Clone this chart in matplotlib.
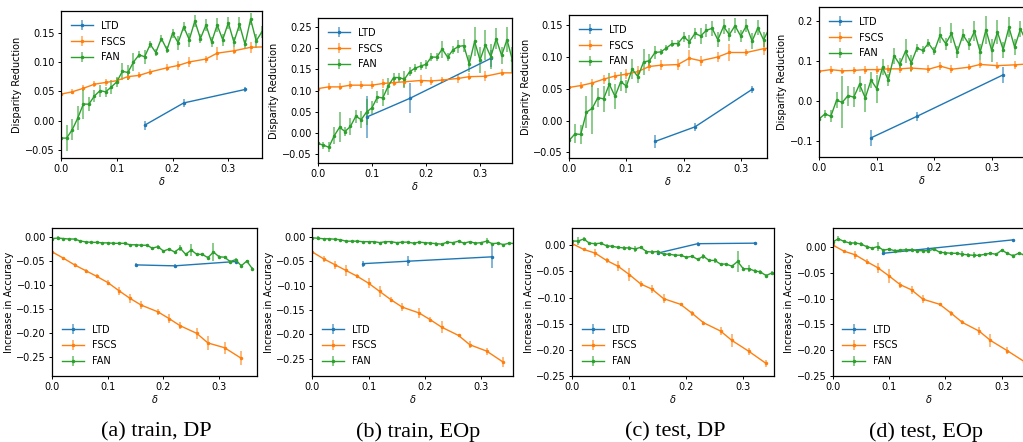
import matplotlib
matplotlib.use('Agg')
import matplotlib.pyplot as plt

W, H = 1023, 442
C_LTD, C_FSCS, C_FAN = '#1f77b4', '#ff7f0e', '#2ca02c'

# ---- shared x grids ----
delta_fan = [0.00, 0.01, 0.02, 0.03, 0.04, 0.05, 0.06, 0.07, 0.08, 0.09,
             0.10, 0.11, 0.12, 0.13, 0.14, 0.15, 0.16, 0.17, 0.18, 0.19,
             0.20, 0.21, 0.22, 0.23, 0.24, 0.25, 0.26, 0.27, 0.28, 0.29,
             0.30, 0.31, 0.32, 0.33, 0.34, 0.35, 0.36]
delta_fscs_top = [0.00, 0.02, 0.04, 0.06, 0.08, 0.10, 0.12, 0.14, 0.16,
                  0.19, 0.21, 0.23, 0.26, 0.28, 0.31, 0.34, 0.37]
delta_fscs_bot = [0.00, 0.02, 0.04, 0.06, 0.08, 0.10, 0.12, 0.14, 0.16,
                  0.19, 0.21, 0.23, 0.26, 0.28, 0.31, 0.34]

# ---- (a) train, DP ----
ltd_x_a = [0.15, 0.22, 0.33]
ltd_dr_a = [-0.008, 0.030, 0.053]
ltd_dr_err_a = [0.008, 0.007, 0.004]
fscs_dr_a = [0.045, 0.049, 0.055, 0.062, 0.065, 0.068, 0.075, 0.077, 0.083,
             0.090, 0.094, 0.100, 0.105, 0.115, 0.119, 0.125, 0.126]
fscs_dr_err_a = [0.002, 0.004, 0.005, 0.005, 0.006, 0.005, 0.005, 0.005, 0.005,
                 0.006, 0.008, 0.009, 0.006, 0.011, 0.006, 0.009, 0.005]
fan_dr_a = [-0.030, -0.030, -0.016, 0.004, 0.028, 0.028, 0.042, 0.051, 0.049, 0.057,
            0.066, 0.084, 0.082, 0.100, 0.112, 0.109, 0.130, 0.116, 0.140, 0.121,
            0.149, 0.133, 0.160, 0.138, 0.170, 0.140, 0.163, 0.134, 0.163, 0.138,
            0.167, 0.134, 0.164, 0.130, 0.173, 0.136, 0.151]
fan_dr_err_a = [0.003, 0.022, 0.018, 0.020, 0.025, 0.012, 0.010, 0.010, 0.008, 0.012,
                0.008, 0.015, 0.012, 0.015, 0.006, 0.012, 0.006, 0.006, 0.006, 0.006,
                0.008, 0.012, 0.008, 0.012, 0.010, 0.008, 0.010, 0.008, 0.012, 0.010,
                0.010, 0.008, 0.012, 0.008, 0.010, 0.012, 0.010]
ltd_acc_a = [-0.058, -0.060, -0.051]
ltd_acc_err_a = [0.003, 0.003, 0.003]
fscs_acc_a = [-0.031, -0.044, -0.058, -0.070, -0.082, -0.095, -0.112, -0.128,
              -0.142, -0.156, -0.170, -0.185, -0.201, -0.221, -0.231, -0.253]
fscs_acc_err_a = [0.002, 0.003, 0.004, 0.004, 0.004, 0.005, 0.008, 0.010,
                  0.008, 0.006, 0.010, 0.007, 0.012, 0.015, 0.013, 0.015]
fan_acc_a = [-0.003, -0.002, -0.003, -0.004, -0.004, -0.008, -0.010, -0.011, -0.011, -0.012,
             -0.012, -0.013, -0.013, -0.013, -0.016, -0.016, -0.017, -0.017, -0.023, -0.020,
             -0.029, -0.025, -0.031, -0.023, -0.036, -0.027, -0.036, -0.036, -0.043, -0.031,
             -0.041, -0.042, -0.051, -0.047, -0.060, -0.050, -0.066]
fan_acc_err_a = [0.002, 0.005, 0.002, 0.002, 0.002, 0.002, 0.002, 0.002, 0.002, 0.002,
                 0.002, 0.002, 0.002, 0.002, 0.002, 0.002, 0.002, 0.002, 0.003, 0.003,
                 0.003, 0.003, 0.003, 0.007, 0.003, 0.012, 0.003, 0.003, 0.003, 0.018,
                 0.003, 0.003, 0.004, 0.003, 0.003, 0.003, 0.003]

# ---- (b) train, EOp ----
ltd_x_b = [0.09, 0.17, 0.32]
ltd_dr_b = [0.038, 0.082, 0.176]
ltd_dr_err_b = [0.050, 0.035, 0.020]
fscs_dr_b = [0.105, 0.109, 0.109, 0.113, 0.113, 0.113, 0.117, 0.119, 0.121,
             0.124, 0.123, 0.125, 0.129, 0.133, 0.134, 0.142, 0.142]
fscs_dr_err_b = [0.004, 0.008, 0.008, 0.010, 0.010, 0.010, 0.010, 0.008, 0.012,
                 0.012, 0.010, 0.008, 0.010, 0.008, 0.012, 0.008, 0.006]
fan_dr_b = [-0.024, -0.028, -0.033, -0.006, 0.014, 0.004, 0.016, 0.040, 0.032, 0.050,
            0.060, 0.085, 0.083, 0.111, 0.131, 0.131, 0.127, 0.145, 0.153, 0.158,
            0.162, 0.179, 0.179, 0.198, 0.179, 0.196, 0.204, 0.206, 0.163, 0.216,
            0.172, 0.208, 0.180, 0.222, 0.183, 0.220, 0.172]
fan_dr_err_b = [0.005, 0.008, 0.012, 0.020, 0.035, 0.010, 0.020, 0.015, 0.020, 0.030,
                0.015, 0.015, 0.020, 0.020, 0.010, 0.010, 0.020, 0.010, 0.010, 0.010,
                0.010, 0.010, 0.010, 0.020, 0.010, 0.010, 0.015, 0.015, 0.020, 0.035,
                0.030, 0.035, 0.030, 0.025, 0.020, 0.030, 0.030]
ltd_acc_b = [-0.055, -0.050, -0.041]
ltd_acc_err_b = [0.006, 0.010, 0.022]
fscs_acc_b = [-0.031, -0.045, -0.057, -0.069, -0.081, -0.095, -0.112, -0.129,
              -0.144, -0.156, -0.170, -0.185, -0.202, -0.221, -0.234, -0.257]
fscs_acc_err_b = [0.010, 0.006, 0.008, 0.012, 0.004, 0.010, 0.012, 0.005,
                  0.008, 0.010, 0.005, 0.012, 0.004, 0.007, 0.007, 0.010]
fan_acc_b = [-0.002, -0.003, -0.004, -0.004, -0.005, -0.006, -0.009, -0.009, -0.009, -0.010,
             -0.010, -0.010, -0.012, -0.010, -0.010, -0.012, -0.011, -0.011, -0.013, -0.011,
             -0.012, -0.013, -0.014, -0.015, -0.011, -0.012, -0.009, -0.013, -0.010, -0.013,
             -0.012, -0.009, -0.014, -0.013, -0.016, -0.013, -0.014]
fan_acc_err_b = [0.002, 0.004, 0.002, 0.002, 0.002, 0.002, 0.002, 0.002, 0.002, 0.002,
                 0.002, 0.002, 0.002, 0.002, 0.002, 0.002, 0.002, 0.002, 0.002, 0.002,
                 0.002, 0.002, 0.003, 0.003, 0.002, 0.002, 0.002, 0.002, 0.002, 0.002,
                 0.002, 0.006, 0.002, 0.002, 0.002, 0.002, 0.002]

# ---- (c) test, DP ----
ltd_x_c = [0.15, 0.22, 0.32]
ltd_dr_c = [-0.033, -0.010, 0.049]
ltd_dr_err_c = [0.010, 0.006, 0.006]
fscs_dr_c = [0.052, 0.055, 0.059, 0.065, 0.070, 0.073, 0.077, 0.085, 0.087,
             0.088, 0.098, 0.094, 0.100, 0.107, 0.107, 0.113, 0.116]
fscs_dr_err_c = [0.003, 0.005, 0.006, 0.007, 0.007, 0.008, 0.008, 0.007, 0.008,
                 0.008, 0.013, 0.008, 0.008, 0.013, 0.006, 0.010, 0.006]
fan_dr_c = [-0.031, -0.021, -0.022, 0.013, 0.019, 0.036, 0.034, 0.057, 0.038, 0.061,
            0.054, 0.081, 0.069, 0.092, 0.094, 0.107, 0.108, 0.114, 0.121, 0.121,
            0.132, 0.124, 0.137, 0.133, 0.142, 0.145, 0.127, 0.148, 0.135, 0.149,
            0.133, 0.149, 0.125, 0.146, 0.127, 0.145, 0.120]
fan_dr_err_c = [0.015, 0.015, 0.015, 0.025, 0.040, 0.015, 0.020, 0.018, 0.020, 0.015,
                0.010, 0.015, 0.010, 0.020, 0.010, 0.010, 0.005, 0.005, 0.006, 0.006,
                0.008, 0.010, 0.008, 0.012, 0.010, 0.012, 0.012, 0.012, 0.010, 0.012,
                0.010, 0.010, 0.012, 0.012, 0.012, 0.015, 0.010]
ltd_acc_c = [-0.015, 0.003, 0.004]
ltd_acc_err_c = [0.003, 0.003, 0.002]
fscs_acc_c = [0.003, -0.008, -0.015, -0.029, -0.040, -0.056, -0.074, -0.084,
              -0.102, -0.113, -0.130, -0.148, -0.164, -0.182, -0.203, -0.226]
fscs_acc_err_c = [0.008, 0.003, 0.008, 0.004, 0.010, 0.013, 0.006, 0.008,
                  0.008, 0.003, 0.005, 0.004, 0.008, 0.013, 0.007, 0.007]
fan_acc_c = [0.008, 0.008, 0.012, 0.004, 0.003, 0.004, -0.001, -0.002, -0.004, -0.005,
             -0.005, -0.007, -0.004, -0.012, -0.013, -0.012, -0.017, -0.017, -0.019, -0.019,
             -0.023, -0.021, -0.027, -0.021, -0.029, -0.029, -0.036, -0.036, -0.040, -0.031,
             -0.045, -0.045, -0.049, -0.051, -0.058, -0.053, -0.056]
fan_acc_err_c = [0.003, 0.008, 0.003, 0.003, 0.003, 0.003, 0.003, 0.003, 0.003, 0.003,
                 0.003, 0.005, 0.003, 0.003, 0.003, 0.003, 0.003, 0.003, 0.003, 0.003,
                 0.003, 0.003, 0.003, 0.005, 0.003, 0.005, 0.003, 0.003, 0.003, 0.020,
                 0.003, 0.007, 0.003, 0.003, 0.003, 0.003, 0.003]

# ---- (d) test, EOp ----
ltd_x_d = [0.09, 0.17, 0.32]
ltd_dr_d = [-0.092, -0.038, 0.066]
ltd_dr_err_d = [0.020, 0.012, 0.020]
fscs_dr_d = [0.075, 0.079, 0.076, 0.077, 0.079, 0.079, 0.081, 0.081, 0.083,
             0.080, 0.088, 0.080, 0.085, 0.092, 0.089, 0.091, 0.094]
fscs_dr_err_d = [0.004, 0.010, 0.008, 0.008, 0.010, 0.010, 0.010, 0.010, 0.010,
                 0.010, 0.010, 0.010, 0.008, 0.010, 0.008, 0.010, 0.006]
fan_dr_d = [-0.044, -0.032, -0.038, 0.002, -0.003, 0.014, 0.010, 0.042, 0.008, 0.053,
            0.031, 0.085, 0.053, 0.114, 0.092, 0.125, 0.096, 0.133, 0.127, 0.145,
            0.125, 0.165, 0.144, 0.170, 0.123, 0.166, 0.144, 0.175, 0.123, 0.179,
            0.127, 0.173, 0.129, 0.185, 0.135, 0.181, 0.150]
fan_dr_err_d = [0.020, 0.010, 0.015, 0.020, 0.065, 0.025, 0.025, 0.020, 0.035, 0.020,
                0.035, 0.020, 0.015, 0.020, 0.015, 0.030, 0.020, 0.010, 0.010, 0.010,
                0.010, 0.020, 0.015, 0.025, 0.015, 0.015, 0.015, 0.025, 0.020, 0.035,
                0.030, 0.030, 0.020, 0.025, 0.020, 0.020, 0.020]
ltd_acc_d = [-0.012, -0.003, 0.014]
ltd_acc_err_d = [0.003, 0.003, 0.002]
fscs_acc_d = [0.004, -0.008, -0.015, -0.028, -0.040, -0.056, -0.073, -0.083,
              -0.101, -0.111, -0.128, -0.146, -0.163, -0.181, -0.201, -0.222]
fscs_acc_err_d = [0.008, 0.003, 0.008, 0.004, 0.010, 0.013, 0.006, 0.008,
                  0.008, 0.003, 0.005, 0.004, 0.008, 0.013, 0.007, 0.007]
fan_acc_d = [0.010, 0.016, 0.011, 0.008, 0.008, 0.006, 0.001, -0.002, 0.001, -0.006,
             -0.004, -0.007, -0.006, -0.005, -0.005, -0.007, -0.007, -0.007, -0.004, -0.010,
             -0.011, -0.012, -0.012, -0.014, -0.015, -0.016, -0.016, -0.014, -0.012, -0.014,
             -0.006, -0.012, -0.017, -0.012, -0.015, -0.014, -0.015]
fan_acc_err_d = [0.003, 0.005, 0.003, 0.003, 0.003, 0.003, 0.003, 0.003, 0.008, 0.003,
                 0.003, 0.003, 0.003, 0.003, 0.003, 0.003, 0.003, 0.003, 0.003, 0.003,
                 0.003, 0.003, 0.003, 0.006, 0.003, 0.006, 0.003, 0.003, 0.003, 0.003,
                 0.003, 0.003, 0.003, 0.003, 0.003, 0.003, 0.003]

captions = ['(a) train, DP', '(b) train, EOp', '(c) test, DP', '(d) test, EOp']
caption_x = [156, 418, 675, 926]

# panel layout in pixels: x of delta=0, x of delta=0.3, right edge, top, bottom
top_boxes = [(61, 228.3, 262, 11, 158), (318, 480, 512, 18, 163),
             (569.3, 740.7, 767, 15, 158), (819.3, 991.7, 1024, 7, 157)]
bot_boxes = [(52.3, 219, 257, 228, 376), (312.3, 481, 513, 228, 376),
             (572.3, 743.3, 774, 228, 376), (832.7, 1001.7, 1024, 228, 376)]
top_ylims = [(-0.064, 0.187), (-0.070, 0.271), (-0.059, 0.166), (-0.140, 0.236)]
bot_ylims = [(-0.290, 0.019), (-0.285, 0.018), (-0.250, 0.033), (-0.250, 0.037)]

top_data = [
    (ltd_x_a, ltd_dr_a, ltd_dr_err_a, fscs_dr_a, fscs_dr_err_a, fan_dr_a, fan_dr_err_a),
    (ltd_x_b, ltd_dr_b, ltd_dr_err_b, fscs_dr_b, fscs_dr_err_b, fan_dr_b, fan_dr_err_b),
    (ltd_x_c, ltd_dr_c, ltd_dr_err_c, fscs_dr_c, fscs_dr_err_c, fan_dr_c, fan_dr_err_c),
    (ltd_x_d, ltd_dr_d, ltd_dr_err_d, fscs_dr_d, fscs_dr_err_d, fan_dr_d, fan_dr_err_d),
]
bot_data = [
    (ltd_x_a, ltd_acc_a, ltd_acc_err_a, fscs_acc_a, fscs_acc_err_a, fan_acc_a, fan_acc_err_a),
    (ltd_x_b, ltd_acc_b, ltd_acc_err_b, fscs_acc_b, fscs_acc_err_b, fan_acc_b, fan_acc_err_b),
    (ltd_x_c, ltd_acc_c, ltd_acc_err_c, fscs_acc_c, fscs_acc_err_c, fan_acc_c, fan_acc_err_c),
    (ltd_x_d, ltd_acc_d, ltd_acc_err_d, fscs_acc_d, fscs_acc_err_d, fan_acc_d, fan_acc_err_d),
]

plt.rcParams['font.family'] = ['DejaVu Sans']
plt.rcParams['font.size'] = 7
plt.rcParams['axes.linewidth'] = 0.9


def eb(ax, x, y, e, color, label):
    h = ax.errorbar(x, y, yerr=e, color=color, marker='.', markersize=3,
                    linewidth=1.0, elinewidth=1.4, capsize=0, label=label)
    for c in h[2]:
        c.set_alpha(0.55)
    return h


def make_panel(box, ylim, data, ylabel, legend_loc, fscs_x):
    x0, x03, right, top, bottom = box
    ax = fig.add_axes([x0 / W, 1 - bottom / H, (right - x0) / W, (bottom - top) / H])
    ltd_x, ltd_y, ltd_e, fscs_y, fscs_e, fan_y, fan_e = data
    eb(ax, ltd_x, ltd_y, ltd_e, C_LTD, 'LTD')
    eb(ax, fscs_x, fscs_y, fscs_e, C_FSCS, 'FSCS')
    eb(ax, delta_fan, fan_y, fan_e, C_FAN, 'FAN')
    ax.set_xlim(0, 0.3 * (right - x0) / (x03 - x0))
    ax.set_ylim(*ylim)
    ax.set_xticks([0.0, 0.1, 0.2, 0.3])
    ax.tick_params(labelsize=7, length=2.5, width=0.7, pad=2)
    ax.set_xlabel(r'$\delta$', fontsize=7, labelpad=0.5)
    ax.set_ylabel(ylabel, fontsize=7, labelpad=2)
    ax.legend(loc=legend_loc, frameon=False, fontsize=7, handlelength=2.3,
              borderaxespad=0.6, labelspacing=0.6)
    return ax


fig = plt.figure(figsize=(W / 100, H / 100), dpi=100)

for i in range(4):
    make_panel(top_boxes[i], top_ylims[i], top_data[i], 'Disparity Reduction',
               'upper left', delta_fscs_top)
    make_panel(bot_boxes[i], bot_ylims[i], bot_data[i], 'Increase in Accuracy',
               'lower left', delta_fscs_bot)
    fig.text(caption_x[i] / W, 1 - 432 / H, captions[i], ha='center', va='center',
             fontsize=16, family=['Liberation Serif', 'DejaVu Serif'])

fig.savefig('out.png', dpi=100)
